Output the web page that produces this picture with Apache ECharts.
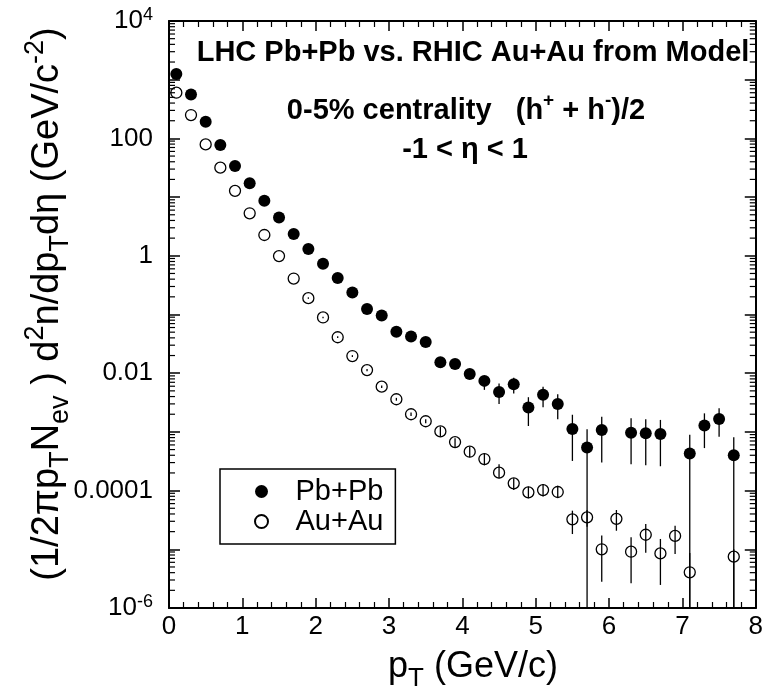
<!DOCTYPE html>
<html>
<head>
<meta charset="utf-8">
<script src="https://cdn.jsdelivr.net/npm/echarts@6/dist/echarts.min.js"></script>
<style>
html, body { margin: 0; padding: 0; background: #fff; }
#chart { width: 766px; height: 700px; }
</style>
</head>
<body>
<div id="chart"></div>
<script>
var FONT = '"Liberation Sans", Arial, Helvetica, sans-serif';

// Pb+Pb (LHC), filled circles
var pbX = [0.1, 0.3, 0.5, 0.7, 0.9, 1.1, 1.3, 1.5, 1.7, 1.9, 2.1, 2.3, 2.5, 2.7, 2.9, 3.1, 3.3, 3.5,
           3.7, 3.9, 4.1, 4.3, 4.5, 4.7, 4.9, 5.1, 5.3, 5.5, 5.7, 5.9, 6.3, 6.5, 6.7, 7.1, 7.3, 7.5, 7.7];
var pbY = [1250, 560, 192, 77, 34, 17.2, 8.7, 4.5, 2.35, 1.3, 0.73, 0.42, 0.237, 0.124, 0.096, 0.051, 0.042, 0.034,
           0.0153, 0.0144, 0.0097, 0.0074, 0.0048, 0.0065, 0.0026, 0.0043, 0.0030, 0.00112, 0.00054, 0.00108,
           0.00097, 0.00095, 0.00092, 0.00043, 0.00128, 0.00166, 0.00040];
// error bar ends (null = hidden behind the marker, 0 = runs off the bottom)
var pbLo = [null, null, null, null, null, null, null, null, null, null, null, null, null, null, null, null, null, null,
            0.0135, 0.0128, 0.0085, 0.0052, 0.0030, 0.0045, 0.00126, 0.00262, 0.00164, 0.00032, 0, 0.00030,
            0.00028, 0.00027, 0.00026, 0, 0.00053, 0.00083, 0];
var pbHi = [null, null, null, null, null, null, null, null, null, null, null, null, null, null, null, null, null, null,
            0.0173, 0.0162, 0.0112, 0.0087, 0.0067, 0.0084, 0.0039, 0.0059, 0.0044, 0.00196, 0.00111, 0.00182,
            0.00171, 0.00164, 0.0016, 0.00089, 0.00207, 0.00252, 0.00081];

// Au+Au (RHIC), open circles
var auX = [0.1, 0.3, 0.5, 0.7, 0.9, 1.1, 1.3, 1.5, 1.7, 1.9, 2.1, 2.3, 2.5, 2.7, 2.9, 3.1, 3.3, 3.5,
           3.7, 3.9, 4.1, 4.3, 4.5, 4.7, 4.9, 5.1, 5.3, 5.5, 5.7, 5.9, 6.1, 6.3, 6.5, 6.7, 6.9, 7.1, 7.7];
var auY = [600, 250, 79, 31.7, 12.8, 5.3, 2.26, 0.99, 0.41, 0.19, 0.089, 0.041, 0.0196, 0.0113, 0.0059, 0.0036, 0.0020, 0.00152,
           0.00102, 0.00067, 0.00046, 0.000345, 0.000202, 0.000133, 0.0000935, 0.000102, 0.0000946,
           3.24e-5, 3.5e-5, 1.0e-5, 3.3e-5, 9.1e-6, 1.77e-5, 8.5e-6, 1.69e-5, 4.06e-6, 7.5e-6];
var auLo = [null, null, null, null, null, null, null, null, null, 0.185, 0.086, 0.0397, 0.0189, 0.0108, 0.0056, 0.0034, 0.00187, 0.00140,
            0.00083, 0.00055, 0.00037, 0.00027, 0.000162, 0.000102, 0.000074, 0.000079, 0.000077,
            1.82e-5, 2.43e-5, 2.8e-6, 2.07e-5, 2.64e-6, 8.75e-6, 2.47e-6, 8.3e-6, 0, 0];
var auHi = [null, null, null, null, null, null, null, null, null, 0.196, 0.092, 0.0424, 0.0203, 0.0118, 0.0062, 0.0038, 0.00214, 0.00165,
            0.00123, 0.00078, 0.00056, 0.00043, 0.00028, 0.000162, 0.000117, 0.00013, 0.000121,
            4.55e-5, 4.67e-5, 1.71e-5, 4.67e-5, 1.6e-5, 2.7e-5, 1.5e-5, 2.52e-5, 8.65e-6, 1.0e-5];

var X_MIN = 0, X_MAX = 8;
var Y_MIN = 1e-6, Y_MAX = 1e4;
var yLabelExp = [-6, -4, -2, 0, 2, 4];
var yLabelText = ['10{sup|-6}', '0.0001', '0.01', '1', '100', '10{sup|4}'];

function points(xs, ys) {
  return xs.map(function (x, i) { return [x, ys[i]]; });
}

function bars(xs, lo, hi) {
  var out = [];
  for (var i = 0; i < xs.length; i++) {
    if (lo[i] != null) out.push([xs[i], lo[i], hi[i]]);
  }
  return out;
}

// minor log ticks 2..9 in every decade; x is only a placeholder inside the plot
var minorTicks = [];
for (var dec = -6; dec < 4; dec++) {
  for (var m = 2; m <= 9; m++) minorTicks.push([X_MAX / 2, m * Math.pow(10, dec), m * Math.pow(10, dec)]);
}

function renderErr(params, api) {
  var x = api.value(0);
  var p1 = api.coord([x, Math.max(api.value(1), Y_MIN)]);
  var p2 = api.coord([x, api.value(2)]);
  return {
    type: 'line',
    shape: { x1: p1[0], y1: p1[1], x2: p2[0], y2: p2[1] },
    style: { stroke: '#000', lineWidth: 1.3 }
  };
}

function renderMinorLeft(params, api) {
  var cs = params.coordSys;
  var y = api.coord([api.value(0), api.value(2)])[1];
  return { type: 'line', shape: { x1: cs.x, y1: y, x2: cs.x + 6, y2: y }, style: { stroke: '#000', lineWidth: 1.2 } };
}

function renderMinorRight(params, api) {
  var cs = params.coordSys;
  var y = api.coord([api.value(0), api.value(2)])[1];
  var r = cs.x + cs.width;
  return { type: 'line', shape: { x1: r, y1: y, x2: r - 6, y2: y }, style: { stroke: '#000', lineWidth: 1.2 } };
}

var axisLineStyle = { color: '#000', width: 2 };

function xAx(pos, labels) {
  return {
    type: 'value', position: pos, min: X_MIN, max: X_MAX, interval: 1,
    axisLine: { show: true, onZero: false, lineStyle: axisLineStyle },
    axisTick: { show: true, inside: true, length: 10, lineStyle: { color: '#000', width: 1.5 } },
    minorTick: { show: true, splitNumber: 5, length: 6, lineStyle: { color: '#000', width: 1.2 } },
    splitLine: { show: false },
    axisLabel: { show: labels, color: '#000', fontFamily: FONT, fontSize: 26, margin: 6 }
  };
}

function yAx(pos, labels) {
  return {
    type: 'log', logBase: 10, position: pos, min: Y_MIN, max: Y_MAX, interval: 1,
    axisLine: { show: true, onZero: false, lineStyle: axisLineStyle },
    axisTick: { show: true, inside: true, length: 11, lineStyle: { color: '#000', width: 1.5 } },
    splitLine: { show: false },
    axisLabel: {
      show: labels, color: '#000', fontFamily: FONT, fontSize: 26, margin: 16,
      formatter: function (v) {
        var i = yLabelExp.indexOf(Math.round(Math.log10(v)));
        return i >= 0 ? yLabelText[i] : '';
      },
      rich: { sup: { fontFamily: FONT, fontSize: 18, verticalAlign: 'top', padding: [0, 0, 12, 0], color: '#000' } }
    }
  };
}

var chart = echarts.init(document.getElementById('chart'));

chart.setOption({
  animation: false,
  grid: { left: 169, right: 9, top: 21, bottom: 92, containLabel: false },
  xAxis: [xAx('bottom', true), xAx('top', false)],
  yAxis: [yAx('left', true), yAx('right', false)],
  legend: {
    data: ['Pb+Pb', 'Au+Au'],
    orient: 'vertical',
    left: 220, top: 469,
    padding: [8, 12, 8, 34],
    itemWidth: 58, itemHeight: 13, itemGap: 1,
    borderColor: '#000', borderWidth: 1.5,
    backgroundColor: '#fff',
    textStyle: { color: '#000', fontFamily: FONT, fontSize: 29, lineHeight: 28 }
  },
  graphic: [
    {
      type: 'text', x: 473, y: 53,
      style: { text: 'LHC Pb+Pb vs. RHIC Au+Au from Model', fill: '#000', font: 'bold 29px ' + FONT, textAlign: 'center', textVerticalAlign: 'middle' }
    },
    {
      type: 'text', x: 466, y: 111,
      style: {
        text: '{b|0-5% centrality   (h}{s|+}{b| + h}{s|-}{b|)/2}',
        textAlign: 'center', textVerticalAlign: 'middle',
        rich: {
          b: { fill: '#000', fontFamily: FONT, fontWeight: 'bold', fontSize: 29, lineHeight: 40 },
          s: { fill: '#000', fontFamily: FONT, fontWeight: 'bold', fontSize: 19, lineHeight: 22, verticalAlign: 'top' }
        }
      }
    },
    {
      type: 'text', x: 465, y: 150,
      style: { text: '-1 < \u03b7 < 1', fill: '#000', font: 'bold 29px ' + FONT, textAlign: 'center', textVerticalAlign: 'middle' }
    },
    {
      type: 'text', x: 473, y: 667,
      style: {
        text: '{n|p}{s|T}{n| (GeV/c)}',
        textAlign: 'center', textVerticalAlign: 'middle',
        rich: {
          n: { fill: '#000', fontFamily: FONT, fontSize: 36, lineHeight: 50 },
          s: { fill: '#000', fontFamily: FONT, fontSize: 26, lineHeight: 24, verticalAlign: 'bottom' }
        }
      }
    },
    {
      type: 'text', x: 48, y: 304, rotation: Math.PI / 2,
      style: {
        text: '{n|(1/2\u03c0p}{s|T}{n|N}{s|ev}{n| ) d}{u|2}{n|n/dp}{s|T}{n|d\u03b7 (GeV/c}{u|-2}{n|)}',
        textAlign: 'center', textVerticalAlign: 'middle',
        rich: {
          n: { fill: '#000', fontFamily: FONT, fontSize: 38, lineHeight: 52 },
          s: { fill: '#000', fontFamily: FONT, fontSize: 27, lineHeight: 24, verticalAlign: 'bottom' },
          u: { fill: '#000', fontFamily: FONT, fontSize: 27, lineHeight: 24, verticalAlign: 'top' }
        }
      }
    }
  ],
  series: [
    {
      name: 'Pb+Pb err', type: 'custom', clip: true,
      renderItem: renderErr, encode: { x: 0, y: 2 }, data: bars(pbX, pbLo, pbHi)
    },
    {
      name: 'Au+Au err', type: 'custom', clip: true,
      renderItem: renderErr, encode: { x: 0, y: 2 }, data: bars(auX, auLo, auHi)
    },
    {
      name: 'Pb+Pb', type: 'scatter', symbol: 'circle', symbolSize: 12,
      itemStyle: { color: '#000', opacity: 1 },
      data: points(pbX, pbY)
    },
    {
      name: 'Au+Au', type: 'scatter', symbol: 'circle', symbolSize: 11,
      itemStyle: { color: 'rgba(255,255,255,0)', borderColor: '#000', borderWidth: 1.3, opacity: 1 },
      data: points(auX, auY)
    },
    {
      name: 'minor ticks left', type: 'custom',
      renderItem: renderMinorLeft, encode: { x: 0, y: 2 }, data: minorTicks
    },
    {
      name: 'minor ticks right', type: 'custom',
      renderItem: renderMinorRight, encode: { x: 0, y: 2 }, data: minorTicks
    }
  ]
});
</script>
</body>
</html>
